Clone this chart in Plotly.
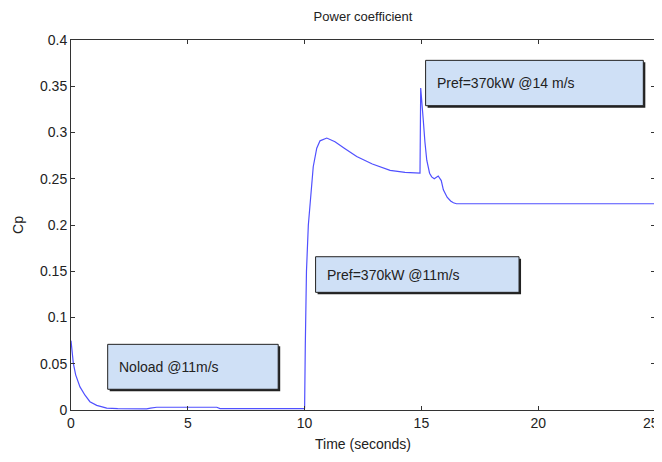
import plotly.graph_objects as go

# Cp trace
time_s = [0, 0.1, 0.2, 0.385, 0.6, 0.81, 1.1, 1.53, 2.0, 3.24, 3.4, 3.67, 6.24, 6.38, 9.97,
          10.0, 10.03, 10.08, 10.16, 10.23, 10.3, 10.37, 10.52, 10.66, 10.95, 11.3, 11.7,
          12.23, 12.9, 13.66, 14.3, 14.94, 14.97, 15.0, 15.08, 15.15, 15.23, 15.35, 15.44,
          15.55, 15.72, 15.85, 15.94, 16.1, 16.25, 16.37, 16.5, 25]
cp = [0.075, 0.0505, 0.038, 0.025, 0.016, 0.009, 0.005, 0.002, 0.0015, 0.0012, 0.002, 0.003,
      0.003, 0.0015, 0.0015,
      0.002, 0.07, 0.15, 0.2, 0.222, 0.238, 0.263, 0.283, 0.291, 0.294, 0.29, 0.283,
      0.274, 0.266, 0.259, 0.257, 0.256, 0.348, 0.34, 0.3135, 0.29, 0.27, 0.256, 0.252,
      0.25, 0.253, 0.248, 0.238, 0.23, 0.226, 0.224, 0.223, 0.223]

x_ticks = [0, 5, 10, 15, 20, 25]
x_tick_text = ["0", "5", "10", "15", "20", ""]  # last label drawn separately so it stays inside
y_ticks = [0, 0.05, 0.1, 0.15, 0.2, 0.25, 0.3, 0.35, 0.4]
y_tick_text = ["0", "0.05", "0.1", "0.15", "0.2", "0.25", "0.3", "0.35", "0.4"]

box_labels = ["Noload @11m/s", "Pref=370kW @11m/s", "Pref=370kW @14 m/s"]
box_x0 = [1.57, 10.47, 15.18]
box_x1 = [8.87, 19.18, 24.5]
box_y0 = [0.0224, 0.1272, 0.329]
box_y1 = [0.071, 0.1657, 0.378]

FONT = "Liberation Sans, Arial"
INK = "#222222"

fig = go.Figure()
fig.add_trace(go.Scatter(x=time_s, y=cp, mode="lines",
                         line=dict(color="#5050ff", width=1.2), showlegend=False))

dx, dy = 2 / 23.36, 2 / 925
for lab, x0, x1, y0, y1 in zip(box_labels, box_x0, box_x1, box_y0, box_y1):
    # shadow
    fig.add_shape(type="rect", x0=x0 + dx, x1=x1 + dx, y0=y0 - dy, y1=y1 - dy,
                  fillcolor=INK, line=dict(width=0), layer="above")
    fig.add_shape(type="rect", x0=x0, x1=x1, y0=y0, y1=y1,
                  fillcolor="#cfe0f6", line=dict(color=INK, width=1), layer="above")
    fig.add_annotation(x=x0 + 0.4, y=(y0 + y1) / 2, text=lab, showarrow=False,
                       xanchor="left", yanchor="middle",
                       font=dict(family=FONT, size=14, color=INK))

fig.add_annotation(x=x_ticks[-1], y=0, yref="paper", text=str(x_ticks[-1]), showarrow=False,
                   xanchor="right", yanchor="top", xshift=6, yshift=-3,
                   font=dict(family=FONT, size=14, color=INK))

axis_common = dict(showline=True, linecolor="#333333", linewidth=1, mirror="ticks",
                   ticks="inside", ticklen=4, tickcolor="#333333", showgrid=False,
                   zeroline=False, automargin=False,
                   tickfont=dict(family=FONT, size=14, color=INK))

fig.update_xaxes(range=[0, 25], tickvals=x_ticks, ticktext=x_tick_text,
                 title=dict(text="Time (seconds)", standoff=9,
                            font=dict(family=FONT, size=14, color=INK)),
                 **axis_common)
fig.update_yaxes(range=[0, 0.4], tickvals=y_ticks, ticktext=y_tick_text,
                 title=dict(text="Cp", standoff=13,
                            font=dict(family=FONT, size=14, color=INK)),
                 **axis_common)

# page body adds an 8px margin, so the figure is sized to fit inside the window
fig.update_layout(
    width=654, height=446,
    margin=dict(l=63, r=7, t=32, b=44),
    plot_bgcolor="white", paper_bgcolor="white",
    title=dict(text="Power coefficient", x=0.5, xref="paper", y=0.98, yanchor="middle",
               font=dict(family=FONT, size=13, color=INK)),
)

fig.write_html("out.html")
